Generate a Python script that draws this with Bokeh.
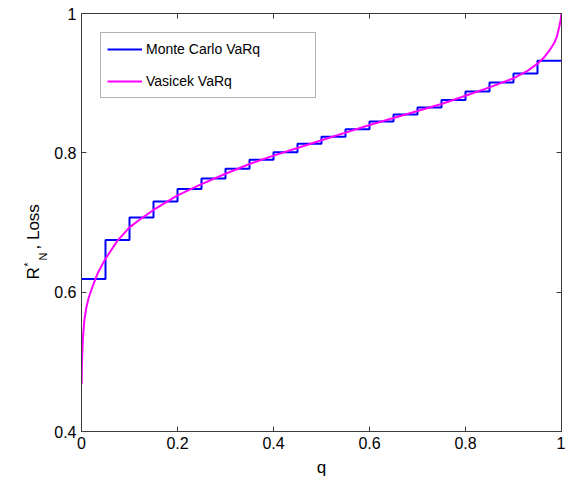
import math
from bokeh.plotting import figure
from bokeh.layouts import row
from bokeh.models import (Range1d, LinearAxis, FixedTicker, PrintfTickFormatter,
                          CustomJSTickFormatter, Label)
from bokeh.embed import file_html
from bokeh.resources import INLINE

# ---- data ----
mc_q = [0.00, 0.05, 0.10, 0.15, 0.20, 0.25, 0.30, 0.35, 0.40, 0.45, 0.50,
        0.55, 0.60, 0.65, 0.70, 0.75, 0.80, 0.85, 0.90, 0.95, 1.00]
mc_loss = [0.619, 0.675, 0.707, 0.730, 0.748, 0.763, 0.777, 0.790, 0.801, 0.813, 0.823,
           0.834, 0.845, 0.855, 0.865, 0.876, 0.888, 0.901, 0.914, 0.932, 0.932]

vas_q = [0.0003, 0.001, 0.003, 0.006, 0.01, 0.015, 0.025, 0.035, 0.05, 0.075, 0.10,
         0.125, 0.15, 0.20, 0.25, 0.30, 0.35, 0.40, 0.45, 0.50, 0.55, 0.60, 0.65,
         0.70, 0.75, 0.80, 0.85, 0.90, 0.93, 0.95, 0.965, 0.975, 0.985, 0.99,
         0.995, 0.998, 1.0]
vas_loss = [0.468, 0.500, 0.535, 0.560, 0.578, 0.592, 0.612, 0.629, 0.648, 0.674, 0.693,
            0.706, 0.718, 0.739, 0.755, 0.770, 0.784, 0.796, 0.807, 0.818, 0.829, 0.840,
            0.850, 0.860, 0.870, 0.882, 0.894, 0.907, 0.918, 0.928, 0.938, 0.947, 0.958,
            0.966, 0.980, 0.990, 1.0]

x_ticks = [0, 0.2, 0.4, 0.6, 0.8, 1]
y_ticks = [0.4, 0.6, 0.8, 1]

FONT = "Liberation Sans"
AXC = "#3a3a3a"
H = 483
LAB_W = 50

p = figure(frame_width=480, frame_height=418,
           x_range=Range1d(0, 1), y_range=Range1d(0.4, 1),
           output_backend="svg", toolbar_location=None,
           min_border_left=81 - LAB_W, min_border_right=4, min_border_top=13,
           min_border_bottom=52,
           background_fill_color="white", border_fill_color="white")
p.grid.visible = False
p.outline_line_color = None

p.step(mc_q, mc_loss, mode="after", line_color="#0000ff", line_width=2,
       legend_label="Monte Carlo VaRq")
p.line(vas_q, vas_loss, line_color="#ff00ff", line_width=2,
       legend_label="Vasicek VaRq")

fmt = PrintfTickFormatter(format="%g")
for ax, ticks in ((p.xaxis[0], x_ticks), (p.yaxis[0], y_ticks)):
    ax.ticker = FixedTicker(ticks=ticks)
    ax.formatter = fmt
    ax.minor_tick_line_color = None
    ax.major_tick_in = 5
    ax.major_tick_out = 0
    ax.axis_line_color = AXC
    ax.major_tick_line_color = AXC
    ax.major_label_text_font = FONT
    ax.major_label_text_font_size = "16px"
    ax.major_label_text_color = "black"
    ax.major_label_standoff = 5

p.xaxis[0].axis_label = "q"
p.xaxis[0].axis_label_text_font = FONT
p.xaxis[0].axis_label_text_font_size = "17px"
p.xaxis[0].axis_label_text_font_style = "normal"
p.xaxis[0].axis_label_text_color = "black"
p.xaxis[0].axis_label_standoff = 6

blank = CustomJSTickFormatter(code="return ''")
top = LinearAxis(ticker=FixedTicker(ticks=x_ticks), formatter=blank)
right = LinearAxis(ticker=FixedTicker(ticks=y_ticks), formatter=blank)
for ax in (top, right):
    ax.minor_tick_line_color = None
    ax.major_tick_in = 5
    ax.major_tick_out = 0
    ax.axis_line_color = AXC
    ax.major_tick_line_color = AXC
    ax.major_label_text_font_size = "1px"
    ax.major_label_standoff = 0
p.add_layout(top, "above")
p.add_layout(right, "right")

lg = p.legend[0]
lg.location = "top_left"
lg.margin = 19
lg.padding = 6
lg.spacing = 12
lg.glyph_width = 35
lg.glyph_height = 20
lg.label_height = 20
lg.label_width = 163
lg.label_standoff = 4
lg.label_text_font = FONT
lg.label_text_font_size = "14px"
lg.label_text_color = "black"
lg.border_line_color = "#666666"
lg.border_line_width = 1
lg.background_fill_alpha = 1

# ---- narrow strip on the left carrying the y-axis title R^*_N, Loss ----
lab = figure(frame_width=LAB_W, frame_height=H, x_range=Range1d(0, 1), y_range=Range1d(0, 1),
             output_backend="svg", toolbar_location=None,
             x_axis_location=None, y_axis_location=None,
             min_border=0, min_border_left=0, min_border_right=0,
             min_border_top=0, min_border_bottom=0,
             background_fill_color="white", border_fill_color="white")
lab.grid.visible = False
lab.outline_line_color = None

def ylab(text, x, y, size):
    lab.add_layout(Label(x=x, y=H - y, x_units="screen", y_units="screen",
                         text=text, angle=math.pi / 2, text_font=FONT,
                         text_font_size=size, text_color="black",
                         text_align="left", text_baseline="alphabetic"))

ylab("R", 33, 266, "17px")
ylab("*", 28, 253, "10px")
ylab("N", 42, 247, "11px")
ylab(", Loss", 33, 236, "17px")

layout = row(lab, p, spacing=0)
open("out.html", "w").write(file_html(layout, INLINE))
